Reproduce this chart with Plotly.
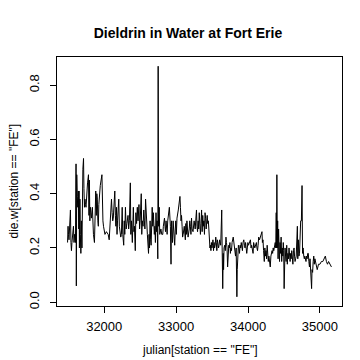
import plotly.graph_objects as go

julian = [
31490,31497,31503,31510,31517,31530,31537,31544,31551,31558,31572,31580,31587,31600,31608,31612,31618,31625,31632,31639,31646,31650,31655,31662,31668,31675,31682,31690,31703,31712,31718,31725,31732,31740,31747,31768,31781,31788,31794,31800,31808,31815,31822,31835,31850,31864,31882,31890,31897,31904,31911,31918,31925,31932,31945,31968,31975,31982,31990,31997,
32010,32030,32055,32069,32076,32083,32090,32101,32110,32118,32126,32147,32155,32162,32170,32178,32185,32202,32210,32220,32230,32239,32250,32258,32271,32278,32286,32295,32305,32315,32331,32340,32350,32363,32370,32378,32391,32398,32405,32413,32420,32432,32440,32450,32460,32470,32483,32492,32500,32515,32522,32530,32540,32550,32558,32566,32575,32584,32592,32600,32616,32623,32630,32638,32645,32652,32667,32675,32683,32690,32697,32704,32712,32720,32728,32736,32745,32750,32756,32760,32765,
32772,32780,32788,32800,32814,32822,32830,32838,32845,32852,32860,32868,32875,32883,32890,32906,32920,32929,32935,32942,32950,32958,32965,32972,32980,32988,32995,33003,33012,33030,33040,33053,33060,33068,33075,33083,33090,33098,33113,33120,33128,33135,33143,33150,33158,33166,33182,33190,33198,33206,33214,33222,33235,33250,33265,33283,33290,33298,33306,33314,33322,33330,33338,33346,33354,33362,33370,33378,33386,33394,33402,33410,33418,33425,33432,33440,33448,33455,
33462,33470,33477,33484,33491,33498,33505,33512,33520,33528,33535,33543,33551,33558,33566,33574,33582,33590,33597,33605,33620,33634,33640,33648,33655,33660,33666,33675,33684,33693,33700,33708,33716,33724,33732,33740,33748,33755,33762,33770,33778,33794,33802,33810,33826,33835,33845,33850,33858,33866,33874,33881,33890,33898,33906,33914,33922,33930,33941,33950,33958,33966,33974,33982,33990,33998,34006,34033,34042,34050,34070,34078,34086,34094,34102,34116,34124,34132,34140,34148,34160,34175,34194,34200,34208,34216,34226,34234,34242,34250,34258,34266,34274,34282,34290,34309,34318,34326,34334,34342,34350,34358,34378,
34385,34392,34397,34401,34406,34412,34418,34425,34438,34445,34452,34460,34468,34476,34484,34490,34496,34502,34508,34515,34522,34530,34538,34546,34554,34562,34570,34585,34593,34600,34608,34616,34624,34632,34640,34647,34654,34662,34670,34686,34692,34700,34708,34716,34732,34742,34751,34758,34766,34775,34783,34790,34798,34806,34814,34822,34830,34838,34846,34854,34862,34884,34890,34898,34906,34914,34922,34930,34962,34980,35000,35020,35040,35060,35075,35090,35105,35120,35140,35160,
]

dieldrin = [
0.22,0.28,0.25,0.23,0.26,0.34,0.22,0.19,0.22,0.25,0.28,0.22,0.25,0.22,0.51,0.06,0.47,0.39,0.35,0.41,0.27,0.41,0.20,0.38,0.25,0.18,0.30,0.20,0.49,0.53,0.42,0.35,0.38,0.36,0.35,0.44,0.47,0.32,0.45,0.30,0.35,0.33,0.31,0.35,0.25,0.22,0.41,0.32,0.40,0.38,0.30,0.28,0.36,0.39,0.43,0.47,0.35,0.30,0.28,0.27,
0.25,0.26,0.25,0.23,0.26,0.28,0.30,0.38,0.33,0.30,0.31,0.41,0.32,0.28,0.35,0.25,0.30,0.38,0.28,0.26,0.24,0.25,0.35,0.25,0.21,0.30,0.25,0.35,0.27,0.29,0.32,0.27,0.30,0.44,0.25,0.30,0.22,0.30,0.35,0.26,0.28,0.19,0.33,0.29,0.35,0.30,0.36,0.27,0.30,0.40,0.25,0.30,0.28,0.34,0.30,0.27,0.38,0.32,0.28,0.25,0.18,0.25,0.20,0.30,0.23,0.21,0.35,0.28,0.33,0.30,0.25,0.28,0.22,0.33,0.26,0.30,0.16,0.87,0.28,0.58,0.35,
0.25,0.26,0.27,0.25,0.25,0.28,0.30,0.31,0.28,0.26,0.30,0.28,0.25,0.30,0.32,0.35,0.28,0.14,0.30,0.25,0.22,0.30,0.28,0.25,0.21,0.27,0.30,0.25,0.31,0.34,0.37,0.39,0.35,0.30,0.32,0.28,0.24,0.25,0.28,0.25,0.23,0.29,0.25,0.30,0.26,0.24,0.27,0.30,0.28,0.25,0.31,0.27,0.26,0.30,0.27,0.34,0.28,0.26,0.30,0.27,0.33,0.28,0.25,0.29,0.34,0.26,0.32,0.28,0.30,0.25,0.33,0.31,0.27,0.30,0.32,0.29,0.30,0.27,
0.22,0.20,0.21,0.19,0.22,0.20,0.21,0.23,0.19,0.22,0.20,0.21,0.24,0.22,0.19,0.23,0.22,0.20,0.21,0.23,0.21,0.34,0.20,0.05,0.18,0.12,0.20,0.21,0.19,0.24,0.22,0.20,0.13,0.17,0.21,0.20,0.22,0.18,0.20,0.19,0.22,0.24,0.22,0.21,0.17,0.20,0.02,0.12,0.19,0.21,0.20,0.18,0.21,0.20,0.22,0.21,0.19,0.22,0.23,0.21,0.20,0.22,0.19,0.18,0.20,0.22,0.21,0.23,0.20,0.21,0.18,0.22,0.21,0.20,0.21,0.22,0.20,0.19,0.21,0.24,0.23,0.24,0.26,0.22,0.23,0.19,0.15,0.20,0.17,0.19,0.16,0.21,0.18,0.15,0.17,0.13,0.17,0.18,0.19,0.18,0.20,0.19,0.22,
0.20,0.33,0.20,0.47,0.20,0.30,0.16,0.27,0.15,0.22,0.18,0.24,0.15,0.20,0.17,0.22,0.19,0.05,0.09,0.20,0.17,0.15,0.21,0.14,0.18,0.16,0.20,0.15,0.18,0.16,0.19,0.17,0.14,0.19,0.20,0.17,0.15,0.16,0.17,0.28,0.16,0.23,0.17,0.18,0.30,0.30,0.43,0.18,0.20,0.17,0.16,0.17,0.16,0.15,0.17,0.16,0.18,0.18,0.15,0.13,0.16,0.05,0.12,0.11,0.15,0.17,0.14,0.16,0.12,0.14,0.14,0.15,0.15,0.16,0.17,0.15,0.14,0.15,0.14,0.13,
]

x_ticks = [32000, 33000, 34000, 35000]
x_tick_labels = ["32000", "33000", "34000", "35000"]
y_ticks = [0.0, 0.2, 0.4, 0.6, 0.8]
y_tick_labels = ["0.0", "0.2", "0.4", "0.6", "0.8"]

title = "Dieldrin in Water at Fort Erie"
x_title = 'julian[station == "FE"]'
y_title = 'die.w[station == "FE"]'

xmin, xmax = min(julian), max(julian)
ymin, ymax = min(dieldrin), max(dieldrin)
xpad = (xmax - xmin) * 0.04
ypad = (ymax - ymin) * 0.04

font = "Liberation Sans, Arial, sans-serif"

fig = go.Figure()
fig.add_trace(go.Scatter(x=julian, y=dieldrin, mode="lines",
                         line=dict(color="black", width=1), hoverinfo="skip"))

fig.update_layout(
    width=360, height=360,
    margin=dict(l=49, r=26, t=49, b=62),
    paper_bgcolor="white", plot_bgcolor="white",
    showlegend=False,
    font=dict(family=font, size=12, color="black"),
    title=dict(text="<b>" + title + "</b>", x=0.5, xanchor="center",
               y=1 - 25 / 360, yanchor="middle", yref="container",
               font=dict(family=font, size=14, color="black")),
    xaxis=dict(range=[xmin - xpad, xmax + xpad], tickvals=x_ticks,
               ticktext=x_tick_labels,
               ticks="outside", ticklen=6, tickwidth=1, tickcolor="black",
               showline=True, linecolor="black", linewidth=1, mirror=True,
               showgrid=False, zeroline=False, ticklabelstandoff=2,
               tickfont=dict(size=13)),
    yaxis=dict(range=[ymin - ypad, ymax + ypad], tickvals=y_ticks,
               ticktext=y_tick_labels, tickangle=-90,
               ticks="outside", ticklen=6, tickwidth=1, tickcolor="black",
               showline=True, linecolor="black", linewidth=1, mirror=True,
               showgrid=False, zeroline=False, ticklabelstandoff=6,
               tickfont=dict(size=13)),
    annotations=[
        dict(text=x_title, xref="paper", yref="paper", x=0.5, y=-(341.5 - 298) / 249,
             xanchor="center", yanchor="middle", showarrow=False,
             font=dict(family=font, size=12, color="black")),
        dict(text=y_title, xref="paper", yref="paper", x=(5 - 49) / 285, y=0.5,
             xanchor="center", yanchor="middle", textangle=-90, showarrow=False,
             font=dict(family=font, size=12, color="black")),
    ],
)

fig.write_html("out.html")
